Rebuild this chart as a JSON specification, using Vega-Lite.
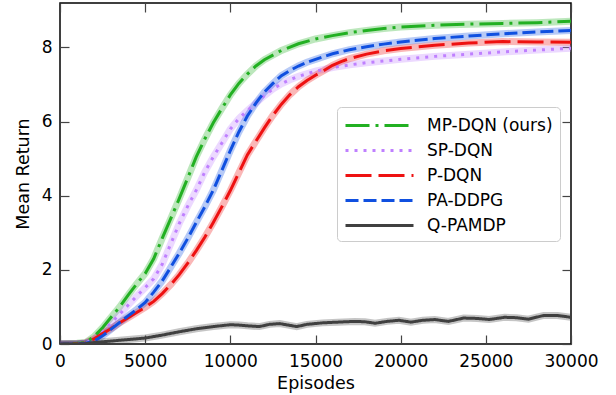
{
  "$schema": "https://vega.github.io/schema/vega-lite/v6.json",
  "width": 511,
  "height": 341,
  "autosize": {"type": "none"},
  "padding": {"left": 60, "top": 3, "right": 45, "bottom": 51},
  "config": {
    "font": "DejaVu Sans",
    "view": {"stroke": "black", "strokeWidth": 1.5},
    "axis": {
      "domain": false,
      "grid": false,
      "tickSize": -9,
      "tickColor": "#444444",
      "tickWidth": 1.2,
      "labelFlush": false,
      "labelFontSize": 17,
      "labelColor": "black",
      "labelFont": "DejaVu Sans",
      "titleFontSize": 17.5,
      "titleFontWeight": "normal",
      "titleFont": "DejaVu Sans",
      "titleColor": "black"
    },
    "legend": {
      "labelFontSize": 17,
      "labelFont": "DejaVu Sans",
      "labelColor": "black",
      "symbolType": "M-1,0H5.8",
      "symbolSize": 400,
      "symbolStrokeWidth": 3,
      "symbolOpacity": 1,
      "strokeColor": "#cccccc",
      "fillColor": "white",
      "cornerRadius": 4,
      "padding": 7,
      "rowPadding": 5,
      "labelOffset": 60,
      "labelLimit": 300
    }
  },
  "data": {"values": [
    {"s":"MP-DQN (ours)","x":0,"y":0},{"s":"MP-DQN (ours)","x":1000,"y":0.02},{"s":"MP-DQN (ours)","x":1500,"y":0.04},{"s":"MP-DQN (ours)","x":2000,"y":0.2},{"s":"MP-DQN (ours)","x":2500,"y":0.44},{"s":"MP-DQN (ours)","x":3000,"y":0.72},{"s":"MP-DQN (ours)","x":3500,"y":1.0},{"s":"MP-DQN (ours)","x":4000,"y":1.32},{"s":"MP-DQN (ours)","x":4500,"y":1.62},{"s":"MP-DQN (ours)","x":5000,"y":1.9},{"s":"MP-DQN (ours)","x":5500,"y":2.3},{"s":"MP-DQN (ours)","x":6000,"y":2.85},{"s":"MP-DQN (ours)","x":6500,"y":3.38},{"s":"MP-DQN (ours)","x":7000,"y":3.92},{"s":"MP-DQN (ours)","x":7500,"y":4.48},{"s":"MP-DQN (ours)","x":8000,"y":5.05},{"s":"MP-DQN (ours)","x":8500,"y":5.53},{"s":"MP-DQN (ours)","x":9000,"y":5.97},{"s":"MP-DQN (ours)","x":9500,"y":6.35},{"s":"MP-DQN (ours)","x":10000,"y":6.72},{"s":"MP-DQN (ours)","x":10500,"y":7.03},{"s":"MP-DQN (ours)","x":11000,"y":7.28},{"s":"MP-DQN (ours)","x":11500,"y":7.5},{"s":"MP-DQN (ours)","x":12000,"y":7.67},{"s":"MP-DQN (ours)","x":13000,"y":7.92},{"s":"MP-DQN (ours)","x":14000,"y":8.1},{"s":"MP-DQN (ours)","x":15000,"y":8.23},{"s":"MP-DQN (ours)","x":16000,"y":8.32},{"s":"MP-DQN (ours)","x":17000,"y":8.4},{"s":"MP-DQN (ours)","x":18000,"y":8.46},{"s":"MP-DQN (ours)","x":19000,"y":8.51},{"s":"MP-DQN (ours)","x":20000,"y":8.55},{"s":"MP-DQN (ours)","x":22000,"y":8.6},{"s":"MP-DQN (ours)","x":24000,"y":8.63},{"s":"MP-DQN (ours)","x":26000,"y":8.65},{"s":"MP-DQN (ours)","x":28000,"y":8.67},{"s":"MP-DQN (ours)","x":30000,"y":8.71},
    {"s":"SP-DQN","x":0,"y":0},{"s":"SP-DQN","x":1000,"y":0.01},{"s":"SP-DQN","x":1500,"y":0.03},{"s":"SP-DQN","x":2000,"y":0.13},{"s":"SP-DQN","x":2500,"y":0.33},{"s":"SP-DQN","x":3000,"y":0.57},{"s":"SP-DQN","x":3500,"y":0.8},{"s":"SP-DQN","x":4000,"y":1.05},{"s":"SP-DQN","x":4500,"y":1.29},{"s":"SP-DQN","x":5000,"y":1.52},{"s":"SP-DQN","x":5500,"y":1.76},{"s":"SP-DQN","x":6000,"y":2.15},{"s":"SP-DQN","x":6500,"y":2.7},{"s":"SP-DQN","x":7000,"y":3.25},{"s":"SP-DQN","x":7500,"y":3.72},{"s":"SP-DQN","x":8000,"y":4.15},{"s":"SP-DQN","x":8500,"y":4.64},{"s":"SP-DQN","x":9000,"y":5.05},{"s":"SP-DQN","x":9500,"y":5.42},{"s":"SP-DQN","x":10000,"y":5.8},{"s":"SP-DQN","x":10500,"y":6.08},{"s":"SP-DQN","x":11000,"y":6.3},{"s":"SP-DQN","x":11500,"y":6.5},{"s":"SP-DQN","x":12000,"y":6.7},{"s":"SP-DQN","x":12500,"y":6.88},{"s":"SP-DQN","x":13000,"y":7.02},{"s":"SP-DQN","x":13500,"y":7.13},{"s":"SP-DQN","x":14000,"y":7.22},{"s":"SP-DQN","x":15000,"y":7.36},{"s":"SP-DQN","x":16000,"y":7.46},{"s":"SP-DQN","x":17000,"y":7.53},{"s":"SP-DQN","x":18000,"y":7.59},{"s":"SP-DQN","x":20000,"y":7.68},{"s":"SP-DQN","x":22000,"y":7.76},{"s":"SP-DQN","x":24000,"y":7.82},{"s":"SP-DQN","x":26000,"y":7.88},{"s":"SP-DQN","x":28000,"y":7.93},{"s":"SP-DQN","x":30000,"y":7.98},
    {"s":"P-DQN","x":0,"y":0},{"s":"P-DQN","x":1000,"y":0},{"s":"P-DQN","x":1500,"y":0.03},{"s":"P-DQN","x":2000,"y":0.14},{"s":"P-DQN","x":2500,"y":0.28},{"s":"P-DQN","x":3000,"y":0.42},{"s":"P-DQN","x":3500,"y":0.57},{"s":"P-DQN","x":4000,"y":0.71},{"s":"P-DQN","x":4500,"y":0.85},{"s":"P-DQN","x":5000,"y":0.99},{"s":"P-DQN","x":5500,"y":1.15},{"s":"P-DQN","x":6000,"y":1.36},{"s":"P-DQN","x":6500,"y":1.6},{"s":"P-DQN","x":7000,"y":1.87},{"s":"P-DQN","x":7500,"y":2.18},{"s":"P-DQN","x":8000,"y":2.52},{"s":"P-DQN","x":8500,"y":2.88},{"s":"P-DQN","x":9000,"y":3.28},{"s":"P-DQN","x":9500,"y":3.7},{"s":"P-DQN","x":10000,"y":4.14},{"s":"P-DQN","x":10500,"y":4.62},{"s":"P-DQN","x":11000,"y":5.1},{"s":"P-DQN","x":11500,"y":5.47},{"s":"P-DQN","x":12000,"y":5.83},{"s":"P-DQN","x":12500,"y":6.17},{"s":"P-DQN","x":13000,"y":6.47},{"s":"P-DQN","x":13500,"y":6.73},{"s":"P-DQN","x":14000,"y":6.94},{"s":"P-DQN","x":14500,"y":7.11},{"s":"P-DQN","x":15000,"y":7.25},{"s":"P-DQN","x":15500,"y":7.38},{"s":"P-DQN","x":16000,"y":7.52},{"s":"P-DQN","x":16500,"y":7.62},{"s":"P-DQN","x":17000,"y":7.7},{"s":"P-DQN","x":18000,"y":7.82},{"s":"P-DQN","x":19000,"y":7.91},{"s":"P-DQN","x":20000,"y":7.97},{"s":"P-DQN","x":22000,"y":8.06},{"s":"P-DQN","x":24000,"y":8.12},{"s":"P-DQN","x":26000,"y":8.16},{"s":"P-DQN","x":28000,"y":8.15},{"s":"P-DQN","x":30000,"y":8.14},
    {"s":"PA-DDPG","x":0,"y":0},{"s":"PA-DDPG","x":1000,"y":0},{"s":"PA-DDPG","x":1500,"y":0.02},{"s":"PA-DDPG","x":2000,"y":0.08},{"s":"PA-DDPG","x":2500,"y":0.22},{"s":"PA-DDPG","x":3000,"y":0.4},{"s":"PA-DDPG","x":3500,"y":0.58},{"s":"PA-DDPG","x":4000,"y":0.76},{"s":"PA-DDPG","x":4500,"y":0.93},{"s":"PA-DDPG","x":5000,"y":1.12},{"s":"PA-DDPG","x":5500,"y":1.4},{"s":"PA-DDPG","x":6000,"y":1.7},{"s":"PA-DDPG","x":6500,"y":2.07},{"s":"PA-DDPG","x":7000,"y":2.45},{"s":"PA-DDPG","x":7500,"y":2.85},{"s":"PA-DDPG","x":8000,"y":3.28},{"s":"PA-DDPG","x":8500,"y":3.7},{"s":"PA-DDPG","x":9000,"y":4.15},{"s":"PA-DDPG","x":9500,"y":4.68},{"s":"PA-DDPG","x":10000,"y":5.22},{"s":"PA-DDPG","x":10500,"y":5.72},{"s":"PA-DDPG","x":11000,"y":6.15},{"s":"PA-DDPG","x":11500,"y":6.5},{"s":"PA-DDPG","x":12000,"y":6.8},{"s":"PA-DDPG","x":12500,"y":7.03},{"s":"PA-DDPG","x":13000,"y":7.24},{"s":"PA-DDPG","x":13500,"y":7.38},{"s":"PA-DDPG","x":14000,"y":7.5},{"s":"PA-DDPG","x":14500,"y":7.6},{"s":"PA-DDPG","x":15000,"y":7.68},{"s":"PA-DDPG","x":16000,"y":7.83},{"s":"PA-DDPG","x":17000,"y":7.94},{"s":"PA-DDPG","x":18000,"y":8.02},{"s":"PA-DDPG","x":19000,"y":8.09},{"s":"PA-DDPG","x":20000,"y":8.15},{"s":"PA-DDPG","x":22000,"y":8.24},{"s":"PA-DDPG","x":24000,"y":8.31},{"s":"PA-DDPG","x":26000,"y":8.37},{"s":"PA-DDPG","x":28000,"y":8.42},{"s":"PA-DDPG","x":30000,"y":8.46},
    {"s":"Q-PAMDP","x":0,"y":0},{"s":"Q-PAMDP","x":1000,"y":0},{"s":"Q-PAMDP","x":1500,"y":0.01},{"s":"Q-PAMDP","x":2000,"y":0.04},{"s":"Q-PAMDP","x":3000,"y":0.08},{"s":"Q-PAMDP","x":4000,"y":0.12},{"s":"Q-PAMDP","x":5000,"y":0.16},{"s":"Q-PAMDP","x":6000,"y":0.24},{"s":"Q-PAMDP","x":7000,"y":0.33},{"s":"Q-PAMDP","x":8000,"y":0.41},{"s":"Q-PAMDP","x":9000,"y":0.47},{"s":"Q-PAMDP","x":10000,"y":0.52},{"s":"Q-PAMDP","x":10500,"y":0.51},{"s":"Q-PAMDP","x":11000,"y":0.49},{"s":"Q-PAMDP","x":11700,"y":0.47},{"s":"Q-PAMDP","x":12300,"y":0.53},{"s":"Q-PAMDP","x":12900,"y":0.55},{"s":"Q-PAMDP","x":13400,"y":0.51},{"s":"Q-PAMDP","x":13900,"y":0.47},{"s":"Q-PAMDP","x":14500,"y":0.53},{"s":"Q-PAMDP","x":15400,"y":0.57},{"s":"Q-PAMDP","x":16300,"y":0.59},{"s":"Q-PAMDP","x":17300,"y":0.61},{"s":"Q-PAMDP","x":17900,"y":0.6},{"s":"Q-PAMDP","x":18500,"y":0.56},{"s":"Q-PAMDP","x":19200,"y":0.61},{"s":"Q-PAMDP","x":19900,"y":0.64},{"s":"Q-PAMDP","x":20600,"y":0.59},{"s":"Q-PAMDP","x":21300,"y":0.64},{"s":"Q-PAMDP","x":22000,"y":0.66},{"s":"Q-PAMDP","x":22800,"y":0.61},{"s":"Q-PAMDP","x":23700,"y":0.7},{"s":"Q-PAMDP","x":24500,"y":0.69},{"s":"Q-PAMDP","x":25200,"y":0.66},{"s":"Q-PAMDP","x":26100,"y":0.72},{"s":"Q-PAMDP","x":26800,"y":0.71},{"s":"Q-PAMDP","x":27500,"y":0.67},{"s":"Q-PAMDP","x":28400,"y":0.77},{"s":"Q-PAMDP","x":29200,"y":0.77},{"s":"Q-PAMDP","x":30000,"y":0.72}
  ]},
  "layer": [
    {
      "mark": {"type": "line", "strokeWidth": 7, "opacity": 0.3, "clip": true},
      "encoding": {
        "x": {"field": "x", "type": "quantitative", "scale": {"domain": [0, 30000], "nice": false},
              "axis": {"orient": "top", "labels": false, "title": null, "values": [0,5000,10000,15000,20000,25000,30000]}},
        "y": {"field": "y", "type": "quantitative", "scale": {"domain": [0, 9.2], "nice": false},
              "axis": {"orient": "right", "labels": false, "title": null, "values": [0,2,4,6,8]}},
        "color": {"field": "s", "type": "nominal",
                  "scale": {"domain": ["MP-DQN (ours)","SP-DQN","P-DQN","PA-DDPG","Q-PAMDP"],
                            "range": ["#22b022","#bf80ff","#ee1111","#1050e0","#404040"]},
                  "legend": {"orient": "none", "legendX": 277, "legendY": 104, "title": null, "symbolOpacity": 1,
                             "encode": {"symbols": {"update": {"opacity": {"value": 1}, "strokeWidth": {"value": 3}}}}}}
      }
    },
    {
      "mark": {"type": "line", "strokeWidth": 3, "clip": true},
      "encoding": {
        "x": {"field": "x", "type": "quantitative", "scale": {"domain": [0, 30000], "nice": false},
              "axis": {"orient": "bottom", "title": "Episodes", "values": [0,5000,10000,15000,20000,25000,30000], "format": "d", "labelFlush": false, "labelPadding": 18, "titlePadding": 5}},
        "y": {"field": "y", "type": "quantitative", "scale": {"domain": [0, 9.2], "nice": false},
              "axis": {"orient": "left", "title": "Mean Return", "values": [0,2,4,6,8], "labelPadding": 17, "titlePadding": 9}},
        "color": {"field": "s", "type": "nominal",
                  "scale": {"domain": ["MP-DQN (ours)","SP-DQN","P-DQN","PA-DDPG","Q-PAMDP"],
                            "range": ["#22b022","#bf80ff","#ee1111","#1050e0","#404040"]},
                  "legend": {"orient": "none", "legendX": 277, "legendY": 104, "title": null, "symbolOpacity": 1,
                             "encode": {"symbols": {"update": {"opacity": {"value": 1}, "strokeWidth": {"value": 3}}}}}},
        "strokeDash": {"field": "s", "type": "nominal",
                  "scale": {"domain": ["MP-DQN (ours)","SP-DQN","P-DQN","PA-DDPG","Q-PAMDP"],
                            "range": [[24,6,3,6],[3,6],[26,7],[13,5],[1,0]]},
                  "legend": {"orient": "none", "legendX": 277, "legendY": 104, "title": null, "symbolOpacity": 1,
                             "encode": {"symbols": {"update": {"opacity": {"value": 1}, "strokeWidth": {"value": 3}}}}}}
      }
    }
  ],
  "resolve": {"axis": {"x": "independent", "y": "independent"}}
}
